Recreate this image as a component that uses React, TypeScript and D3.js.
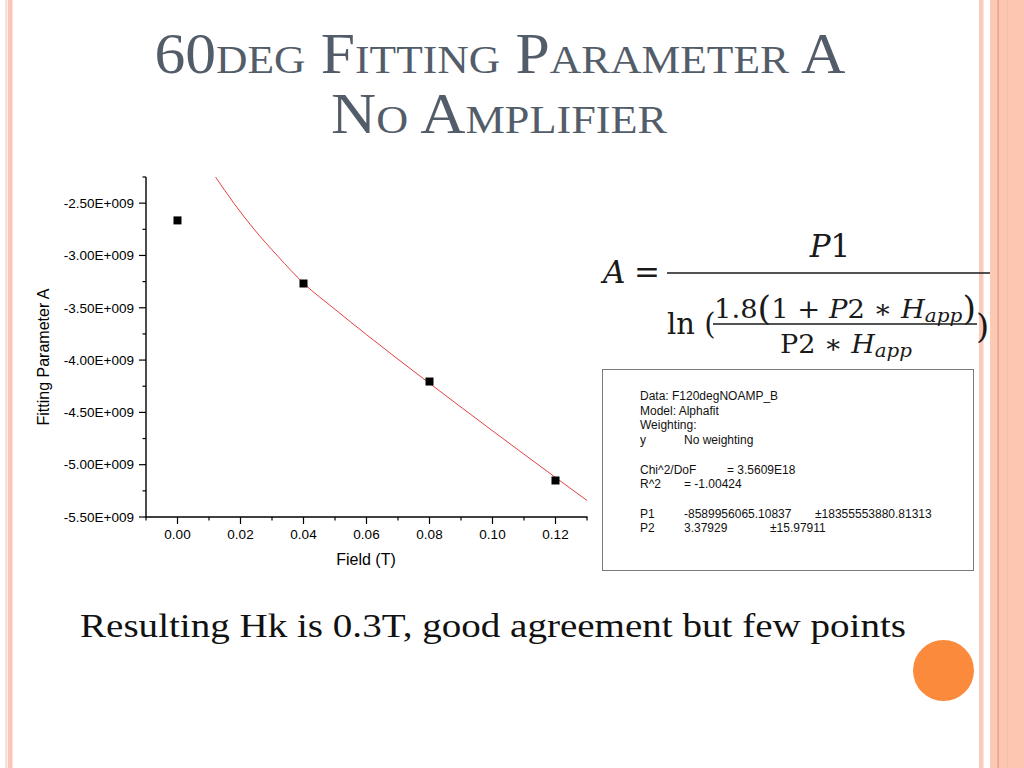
import React from "react";
import * as d3 from "d3";

const fieldT = [0, 0.04, 0.08, 0.12];
const paramA = [-2.665e9, -3.268e9, -4.205e9, -5.151e9];

const fitField = [0.0121, 0.018, 0.024, 0.032, 0.04, 0.05, 0.06, 0.07, 0.08, 0.09, 0.1, 0.11, 0.12, 0.13];
const fitA = [-2.251e9, -2.505e9, -2.738e9, -3.012e9, -3.265e9, -3.515e9, -3.757e9, -3.992e9, -4.222e9, -4.45e9, -4.676e9, -4.9e9, -5.122e9, -5.342e9];

const xMajor = [0, 0.02, 0.04, 0.06, 0.08, 0.1, 0.12];
const xMinor = [-0.01, 0.01, 0.03, 0.05, 0.07, 0.09, 0.11, 0.13];
const yMajor = [-2.5e9, -3.0e9, -3.5e9, -4.0e9, -4.5e9, -5.0e9, -5.5e9];
const yMinor = [-2.25e9, -2.75e9, -3.25e9, -3.75e9, -4.25e9, -4.75e9, -5.25e9];

const statsLines: [string, string, string, number, number][] = [
  ["Data: F120degNOAMP_B", "", "", 0, 0],
  ["Model: Alphafit", "", "", 0, 0],
  ["Weighting:", "", "", 0, 0],
  ["y", "No weighting", "", 684, 0],
  ["", "", "", 0, 0],
  ["Chi^2/DoF", "= 3.5609E18", "", 727, 0],
  ["R^2", "=  -1.00424", "", 684, 0],
  ["", "", "", 0, 0],
  ["P1", "-8589956065.10837", "\u00b118355553880.81313", 684, 815],
  ["P2", "3.37929", "\u00b115.97911", 684, 770],
];

export default function App() {
  const x = d3.scaleLinear().domain([-0.01, 0.13]).range([146, 587]);
  const y = d3.scaleLinear().domain([-5.5e9, -2.25e9]).range([517, 177]);
  const fitPts = fitField.map((f, i) => [f, fitA[i]] as [number, number]);
  const line = d3
    .line<[number, number]>()
    .x((d) => x(d[0]))
    .y((d) => y(d[1]))
    .curve(d3.curveMonotoneX);
  const yFmt = (v: number) => (v / 1e9).toFixed(2) + "E+009";
  const xFmt = (v: number) => v.toFixed(2);
  const axisFont = "Liberation Sans, Arial, sans-serif";
  const serif = "Liberation Serif, 'DejaVu Serif', serif";
  const titleColor = "#535d69";

  return (
    <svg
      width={1024}
      height={768}
      style={{ position: "absolute", left: 0, top: 0, background: "#fff" }}
    >
      <rect x={0} y={0} width={1024} height={768} fill="#fff" />
      {/* left stripes */}
      <rect x={5} y={0} width={2.5} height={768} fill="#f6e2d4" />
      <rect x={8} y={0} width={4.5} height={768} fill="#fdc4b8" />
      {/* right stripes */}
      <rect x={979} y={0} width={4.5} height={768} fill="#f9cbbb" />
      <rect x={990} y={0} width={34} height={768} fill="#fdc6b0" />
      <rect x={990} y={0} width={8} height={768} fill="#fbc9b4" />
      <rect x={997.5} y={0} width={1.2} height={768} fill="#e8977a" />
      <rect x={1007} y={0} width={0.8} height={768} fill="#f8bca4" />

      {/* title */}
      <text
        x={500}
        y={73}
        textAnchor="middle"
        fontFamily={serif}
        fontSize={58}
        fill={titleColor}
        style={{ fontVariant: "small-caps" }}
        textLength={691}
        lengthAdjust="spacingAndGlyphs"
      >
        60deg Fitting Parameter A
      </text>
      <text
        x={499}
        y={133}
        textAnchor="middle"
        fontFamily={serif}
        fontSize={58}
        fill={titleColor}
        style={{ fontVariant: "small-caps" }}
        textLength={336}
        lengthAdjust="spacingAndGlyphs"
      >
        No Amplifier
      </text>

      {/* chart */}
      <defs>
        <clipPath id="plotClip">
          <rect x={146} y={177} width={441} height={340} />
        </clipPath>
      </defs>
      <path
        d={line(fitPts) || ""}
        fill="none"
        stroke="#e02a2a"
        strokeWidth={0.9}
        clipPath="url(#plotClip)"
      />
      {fieldT.map((f, i) => (
        <rect key={i} x={x(f) - 4} y={y(paramA[i]) - 4} width={8} height={8} fill="#000" />
      ))}

      {/* axes */}
      <line x1={146} y1={177} x2={146} y2={517.6} stroke="#000" strokeWidth={1.4} />
      <line x1={145.3} y1={517} x2={587.5} y2={517} stroke="#000" strokeWidth={1.4} />
      {yMajor.map((v) => (
        <g key={"ym" + v}>
          <line x1={139} x2={146} y1={y(v)} y2={y(v)} stroke="#000" strokeWidth={1.2} />
          <text
            x={134}
            y={y(v) + 4.8}
            textAnchor="end"
            fontFamily={axisFont}
            fontSize={13.5}
            fill="#000"
          >
            {yFmt(v)}
          </text>
        </g>
      ))}
      {yMinor.map((v) => (
        <line key={"yn" + v} x1={142.5} x2={146} y1={y(v)} y2={y(v)} stroke="#000" strokeWidth={1.2} />
      ))}
      {xMajor.map((v) => (
        <g key={"xm" + v}>
          <line x1={x(v)} x2={x(v)} y1={517} y2={524} stroke="#000" strokeWidth={1.2} />
          <text
            x={x(v)}
            y={539}
            textAnchor="middle"
            fontFamily={axisFont}
            fontSize={13.5}
            fill="#000"
          >
            {xFmt(v)}
          </text>
        </g>
      ))}
      {xMinor.map((v) => (
        <line key={"xn" + v} x1={x(v)} x2={x(v)} y1={517} y2={520.5} stroke="#000" strokeWidth={1.2} />
      ))}
      <text x={366} y={565} textAnchor="middle" fontFamily={axisFont} fontSize={16} fill="#000">
        Field (T)
      </text>
      <text
        transform="translate(49,357) rotate(-90)"
        textAnchor="middle"
        fontFamily={axisFont}
        fontSize={16}
        fill="#000"
      >
        Fitting Parameter A
      </text>

      {/* formula */}
      <g fontFamily="'DejaVu Serif', 'Liberation Serif', serif" fill="#1a1a1a">
        <text x={603} y={283} fontSize={31} fontStyle="italic">A</text>
        <text x={634} y={283} fontSize={31}>=</text>
        <line x1={667} x2={990} y1={273} y2={273} stroke="#1a1a1a" strokeWidth={1.6} />
        <text x={830} y={257} fontSize={31} textAnchor="middle">
          <tspan fontStyle="italic">P</tspan>1
        </text>
        <text x={667} y={334} fontSize={29}>ln (</text>
        <line x1={713} x2={977} y1={324} y2={324} stroke="#1a1a1a" strokeWidth={1.4} />
        <text x={714} y={318} fontSize={26} textLength={262} lengthAdjust="spacingAndGlyphs">
          1.8<tspan fontSize={33} dy={2}>(</tspan>
          <tspan dy={-2}>1 + </tspan>
          <tspan fontStyle="italic">P</tspan>2 ∗ <tspan fontStyle="italic">H</tspan>
          <tspan fontStyle="italic" fontSize={19} dy={4}>app</tspan>
          <tspan fontSize={33} dy={-2}>)</tspan>
        </text>
        <text x={780} y={353} fontSize={26} textLength={132} lengthAdjust="spacingAndGlyphs">
          P2 ∗ <tspan fontStyle="italic">H</tspan>
          <tspan fontStyle="italic" fontSize={19} dy={4}>app</tspan>
        </text>
        <text x={976} y={338} fontSize={34}>)</text>
      </g>

      {/* stats box */}
      <rect x={602.5} y={369.5} width={371} height={201} fill="#fff" stroke="#7a7a7a" strokeWidth={1} />
      <g fontFamily={axisFont} fontSize={12} fill="#111">
        {statsLines.map((l, i) => (
          <g key={"s" + i}>
            <text x={640} y={400 + i * 14.7}>{l[0]}</text>
            {l[1] && <text x={l[3]} y={400 + i * 14.7}>{l[1]}</text>}
            {l[2] && <text x={l[4]} y={400 + i * 14.7}>{l[2]}</text>}
          </g>
        ))}
      </g>

      {/* bottom text */}
      <text
        x={80}
        y={637}
        fontFamily={serif}
        fontSize={33}
        fill="#111"
        textLength={826}
        lengthAdjust="spacingAndGlyphs"
      >
        Resulting Hk is 0.3T, good agreement but few points
      </text>

      <circle cx={943.5} cy={670.5} r={30.5} fill="#fb8a3c" />
    </svg>
  );
}
